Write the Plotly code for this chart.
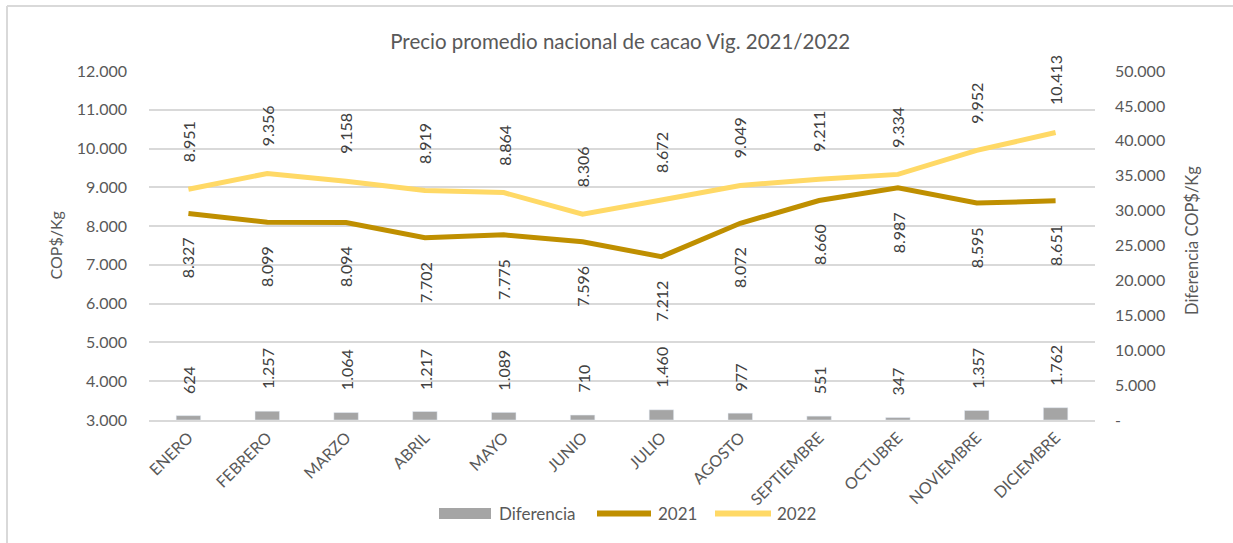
import plotly.graph_objects as go

meses = ["ENERO", "FEBRERO", "MARZO", "ABRIL", "MAYO", "JUNIO", "JULIO",
         "AGOSTO", "SEPTIEMBRE", "OCTUBRE", "NOVIEMBRE", "DICIEMBRE"]
v2021 = [8327, 8099, 8094, 7702, 7775, 7596, 7212, 8072, 8660, 8987, 8595, 8651]
v2022 = [8951, 9356, 9158, 8919, 8864, 8306, 8672, 9049, 9211, 9334, 9952, 10413]
diferencia = [624, 1257, 1064, 1217, 1089, 710, 1460, 977, 551, 347, 1357, 1762]

left_ticks = list(range(3000, 12001, 1000))
right_ticks = list(range(0, 50001, 5000))


def fmt(v):
    return f"{v:,}".replace(",", ".")


left_text = [fmt(v) for v in left_ticks]
right_text = ["-" if v == 0 else fmt(v) for v in right_ticks]

FONT = "Lato, Carlito, 'Open Sans', sans-serif"
TXT = "#595959"
LBL = "#404040"
C2021 = "#BF8F00"
C2022 = "#FFD966"
CBAR = "#A5A5A5"
GRID = "#D9D9D9"

# plot area in page pixels (for layout placement only)
PL, PR, PT, PB = 149, 1095, 71, 420


def px(x):
    return (x - PL) / (PR - PL)


def py(y):
    return (PB - y) / (PB - PT)


fig = go.Figure()
fig.add_trace(go.Bar(x=meses, y=diferencia, name="Diferencia", marker_color=CBAR,
                     yaxis="y2", width=0.31, showlegend=False))
fig.add_trace(go.Scatter(x=meses, y=v2021, name="2021", mode="lines",
                         line=dict(color=C2021, width=5), showlegend=False))
fig.add_trace(go.Scatter(x=meses, y=v2022, name="2022", mode="lines",
                         line=dict(color=C2022, width=5), showlegend=False))

ann = []
for m, a, b, d in zip(meses, v2021, v2022, diferencia):
    ann.append(dict(x=m, y=b, xref="x", yref="y", text=fmt(b), textangle=-90,
                    showarrow=False, yanchor="bottom", yshift=25,
                    font=dict(size=16, color=LBL, family=FONT)))
    ann.append(dict(x=m, y=a, xref="x", yref="y", text=fmt(a), textangle=-90,
                    showarrow=False, yanchor="top", yshift=-22,
                    font=dict(size=16, color=LBL, family=FONT)))
    ann.append(dict(x=m, y=d, xref="x", yref="y2", text=fmt(d), textangle=-90,
                    showarrow=False, yanchor="bottom", yshift=20,
                    font=dict(size=16, color=LBL, family=FONT)))

# axis titles
ann.append(dict(x=px(55), y=0.5, xref="paper", yref="paper", text="COP$/Kg",
                textangle=-90, showarrow=False, xanchor="center", yanchor="middle",
                font=dict(size=16, color=TXT, family=FONT)))
ann.append(dict(x=px(1192), y=py(241), xref="paper", yref="paper",
                text="Diferencia COP$/Kg",
                textangle=-90, showarrow=False, xanchor="center", yanchor="middle",
                font=dict(size=16.5, color=TXT, family=FONT)))

# legend (drawn manually to match the original entry geometry)
series_names = ["Diferencia", "2021", "2022"]
leg_y = py(513.5)
leg_text_x = [497, 656, 775]
for name, tx in zip(series_names, leg_text_x):
    ann.append(dict(x=px(tx), y=leg_y, xref="paper", yref="paper", text=name,
                    showarrow=False, xanchor="left", yanchor="middle",
                    font=dict(size=17, color=TXT, family=FONT)))

shapes = [
    dict(type="line", xref="paper", yref="paper", x0=px(7), x1=px(1300),
         y0=py(6), y1=py(6), line=dict(color=GRID, width=2)),
    dict(type="line", xref="paper", yref="paper", x0=px(7), x1=px(7),
         y0=py(600), y1=py(6), line=dict(color=GRID, width=2)),
    dict(type="rect", xref="paper", yref="paper", x0=px(439), x1=px(491),
         y0=py(519), y1=py(508), fillcolor=CBAR, line=dict(width=0)),
    dict(type="line", xref="paper", yref="paper", x0=px(597), x1=px(651),
         y0=leg_y, y1=leg_y, line=dict(color=C2021, width=6)),
    dict(type="line", xref="paper", yref="paper", x0=px(715), x1=px(771),
         y0=leg_y, y1=leg_y, line=dict(color=C2022, width=6)),
]

fig.update_layout(
    width=1233, height=543,
    margin=dict(l=PL, r=1233 - PR, t=PT, b=543 - PB),
    paper_bgcolor="white", plot_bgcolor="white",
    font=dict(family=FONT, color=TXT, size=16),
    title=dict(text="Precio promedio nacional de cacao Vig. 2021/2022",
               x=0.503, xanchor="center", y=1 - 42 / 543, yanchor="middle",
               font=dict(size=20.5, color=TXT, family=FONT)),
    xaxis=dict(tickangle=-45, showgrid=False, showline=True, linecolor=GRID,
               linewidth=2, ticks="", tickfont=dict(size=16, color=TXT)),
    yaxis=dict(range=[3000, 12000], tickvals=left_ticks, ticktext=left_text,
               showgrid=True, gridcolor=GRID, gridwidth=2, zeroline=False,
               ticks="", ticklabelstandoff=21, tickfont=dict(size=16, color=TXT)),
    yaxis2=dict(range=[0, 50000], tickvals=right_ticks, ticktext=right_text,
                overlaying="y", side="right", showgrid=False, zeroline=False,
                ticks="", ticklabelstandoff=19, tickfont=dict(size=16, color=TXT)),
    showlegend=False,
    annotations=ann,
    shapes=shapes,
)

fig.write_html("out.html",
               config={"displayModeBar": False},
               post_script="document.documentElement.style.overflow='hidden';"
                           "document.body.style.margin='0';"
                           "document.body.style.overflow='hidden';")
